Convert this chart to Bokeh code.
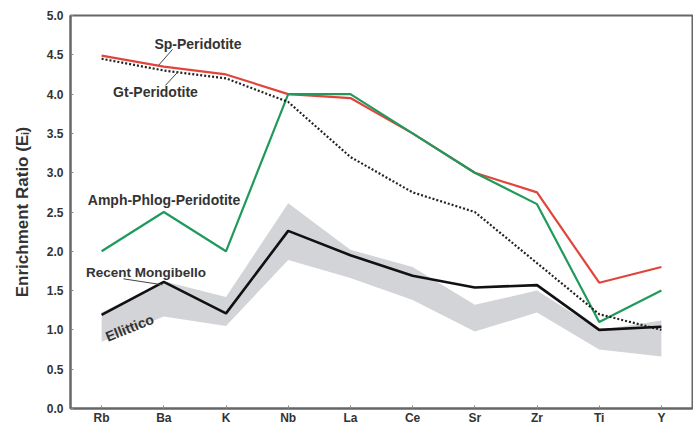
from bokeh.plotting import figure
from bokeh.models import FactorRange, Range1d, FixedTicker, NumeralTickFormatter, Label, ColumnDataSource
from bokeh.embed import file_html
from bokeh.resources import INLINE

elements = ["Rb", "Ba", "K", "Nb", "La", "Ce", "Sr", "Zr", "Ti", "Y"]
sp_peridotite = [4.49, 4.35, 4.25, 4.0, 3.95, 3.5, 3.0, 2.75, 1.6, 1.8]
amph_phlog = [2.0, 2.5, 2.0, 4.0, 4.0, 3.5, 3.0, 2.6, 1.1, 1.5]
gt_peridotite = [4.45, 4.3, 4.2, 3.9, 3.2, 2.75, 2.5, 1.85, 1.2, 1.0]
recent_mongibello = [1.19, 1.61, 1.21, 2.26, 1.95, 1.69, 1.54, 1.57, 1.0, 1.04]
ellittico_upper = [1.22, 1.62, 1.42, 2.61, 2.02, 1.8, 1.32, 1.5, 1.0, 1.12]
ellittico_lower = [0.85, 1.17, 1.05, 1.89, 1.66, 1.38, 0.98, 1.22, 0.75, 0.66]
y_ticks = [0.0, 0.5, 1.0, 1.5, 2.0, 2.5, 3.0, 3.5, 4.0, 4.5, 5.0]

src = ColumnDataSource(dict(x=elements, sp=sp_peridotite, amph=amph_phlog, gt=gt_peridotite,
                            rm=recent_mongibello, up=ellittico_upper, lo=ellittico_lower))

FONT = "Liberation Sans"
TXT = "#333333"

p = figure(width=693, height=427, output_backend="svg", toolbar_location=None,
           x_range=FactorRange(factors=elements, range_padding=0),
           y_range=Range1d(0, 5),
           min_border_left=70, min_border_top=15, min_border_bottom=18, min_border_right=1)

p.xgrid.visible = False
p.ygrid.visible = False
p.outline_line_color = "#666666"
p.outline_line_width = 2

for ax in (p.xaxis[0], p.yaxis[0]):
    ax.axis_line_color = "#666666"
    ax.axis_line_width = 2
    ax.major_tick_in = 3
    ax.major_tick_out = 0
    ax.minor_tick_line_color = None
    ax.major_tick_line_color = "#888888"
    ax.major_label_text_font = FONT
    ax.major_label_text_font_style = "bold"
    ax.major_label_text_color = TXT
    ax.major_label_text_font_size = "12px"

p.xaxis.major_label_standoff = 2
p.yaxis.ticker = FixedTicker(ticks=y_ticks)
p.yaxis.formatter = NumeralTickFormatter(format="0.0")
p.yaxis.major_label_standoff = 7
p.yaxis.axis_label = "Enrichment Ratio (E\u1d62)"
p.yaxis.axis_label_text_font = FONT
p.yaxis.axis_label_text_font_style = "bold"
p.yaxis.axis_label_text_font_size = "17px"
p.yaxis.axis_label_text_color = TXT
p.yaxis.axis_label_standoff = 12

p.varea(x="x", y1="lo", y2="up", source=src, fill_color="#d3d4d7", fill_alpha=1)
p.line(x="x", y="sp", source=src, line_color="#e0453c", line_width=2.2)
p.line(x="x", y="amph", source=src, line_color="#1f9a5c", line_width=2.2)
p.line(x="x", y="gt", source=src, line_color="#222222", line_width=2.2, line_dash="2 2")
p.line(x="x", y="rm", source=src, line_color="#111111", line_width=2.6)

def px(wx):
    return (wx - 70) / 62.2

def py(wy):
    return (409 - wy) / 78.8

# leader lines
p.segment(x0=[px(158), px(177), px(123)], y0=[py(65), py(72), py(279)],
          x1=[px(172), px(165), px(162)], y1=[py(49), py(85), py(285)],
          line_color="#444444", line_width=1)

labels = [
    ("Sp-Peridotite", 197.5, 44, 0.0),
    ("Gt-Peridotite", 155, 92, 0.0),
    ("Amph-Phlog-Peridotite", 163.5, 200, 0.0),
    ("Recent Mongibello", 145.5, 273, 0.0),
    ("Ellittico", 129, 328, 0.38),
]
for t, wx, wy, ang in labels:
    p.add_layout(Label(x=px(wx), y=py(wy), text=t, text_align="center", text_baseline="middle",
                       angle=ang, text_font=FONT, text_font_style="bold",
                       text_font_size="14px" if t != "Recent Mongibello" else "13.5px",
                       text_color=TXT))

open("out.html", "w").write(file_html(p, INLINE))
